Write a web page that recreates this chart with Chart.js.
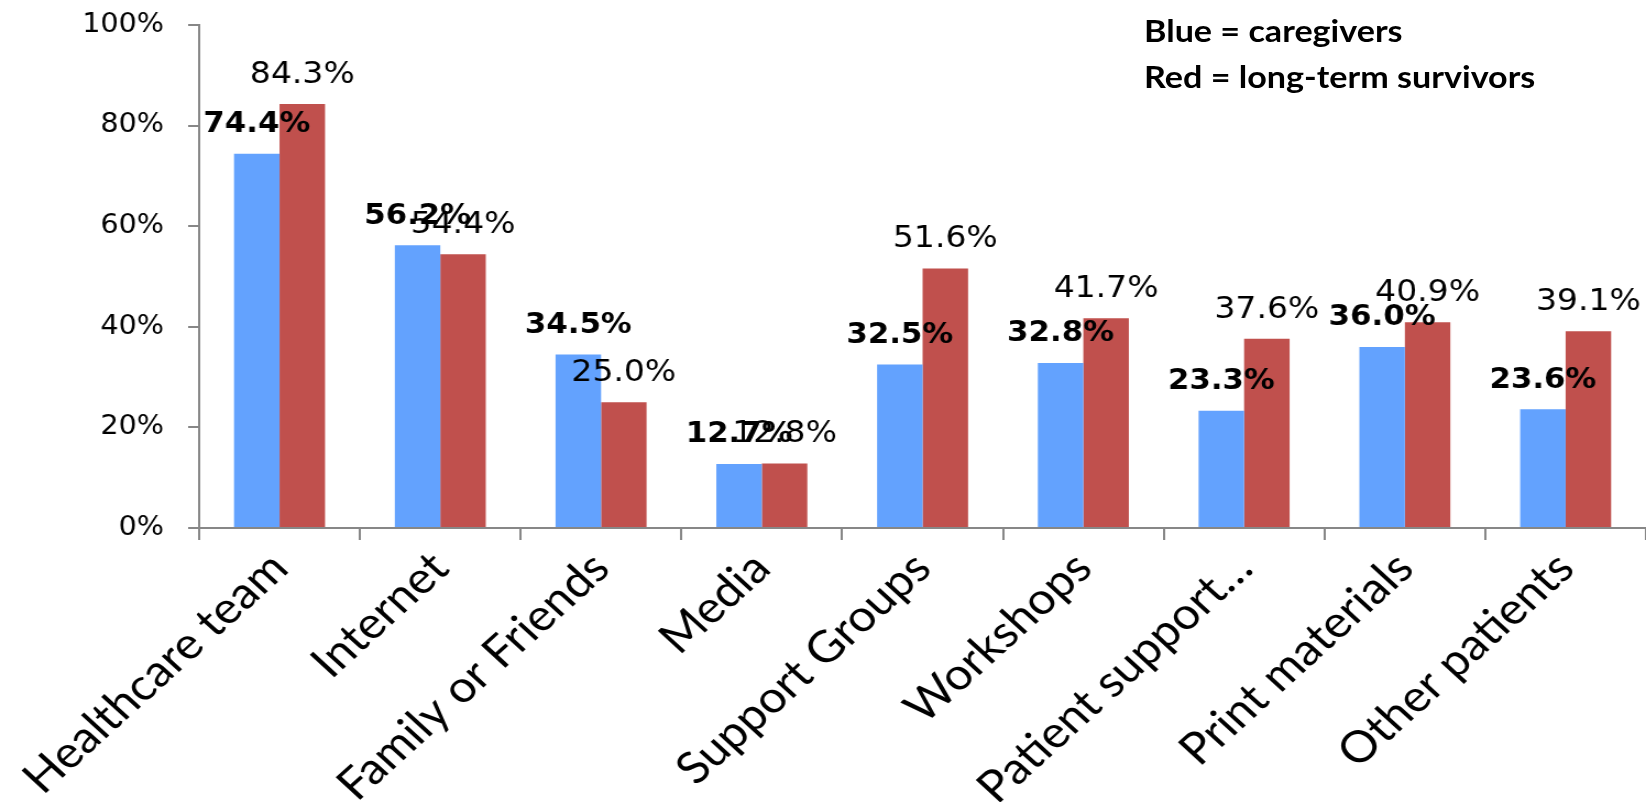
<!DOCTYPE html>
<html>
<head>
<meta charset="utf-8">
<script src="https://cdn.jsdelivr.net/npm/chart.js@4.4.1/dist/chart.umd.min.js"></script>
<style>
  html, body { margin: 0; padding: 0; background: #fff; overflow: hidden; }
  #wrap { position: relative; width: 1646px; height: 802px; }
  #chart { display: block; }
  #key { position: absolute; left: 1144px; top: 7px; font: bold 31px Lato; line-height: 46px;
         transform: scaleX(1.1); transform-origin: left top; color: #000; white-space: nowrap; }
</style>
</head>
<body>
<div id="wrap">
  <!-- the original chart is a bit stretched sideways, so the canvas is drawn narrower and scaled up -->
  <canvas id="chart" width="1496" height="802" style="width:1646px;height:802px"></canvas>
  <div id="key">Blue = caregivers<br>Red = long-term survivors</div>
</div>
<script>
const categories = ['Healthcare team', 'Internet', 'Family or Friends', 'Media', 'Support Groups',
                    'Workshops', 'Patient support\u2026', 'Print materials', 'Other patients'];
const caregivers = [74.4, 56.2, 34.5, 12.7, 32.5, 32.8, 23.3, 36.0, 23.6];
const survivors  = [84.3, 54.4, 25.0, 12.8, 51.6, 41.7, 37.6, 40.9, 39.1];
const yTicks = [0, 20, 40, 60, 80, 100];

const BLUE = '#63a2fe';
const RED = '#c0504d';
const AXIS = '#878787';

// value labels above each bar, blue ones bold
const valueLabels = {
  id: 'valueLabels',
  afterDatasetsDraw(chart) {
    const ctx = chart.ctx;
    chart.data.datasets.forEach((ds, i) => {
      const meta = chart.getDatasetMeta(i);
      meta.data.forEach((bar, j) => {
        ctx.save();
        ctx.fillStyle = '#000';
        ctx.font = ds.boldLabels ? 'bold 28px "DejaVu Sans"' : '30px "DejaVu Sans"';
        ctx.textAlign = 'center';
        ctx.textBaseline = 'middle';
        ctx.fillText(ds.data[j].toFixed(1) + '%', bar.x, bar.y - 29);
        ctx.restore();
      });
    });
  }
};

new Chart(document.getElementById('chart'), {
  type: 'bar',
  data: {
    labels: categories,
    datasets: [
      { label: 'caregivers', data: caregivers, backgroundColor: BLUE,
        categoryPercentage: 0.566, barPercentage: 1, boldLabels: true },
      { label: 'long-term survivors', data: survivors, backgroundColor: RED,
        categoryPercentage: 0.566, barPercentage: 1 }
    ]
  },
  options: {
    responsive: false,
    animation: false,
    devicePixelRatio: 1,
    layout: { padding: { top: 25, left: 0, right: 0, bottom: 0 } },
    plugins: { legend: { display: false }, tooltip: { enabled: false } },
    scales: {
      x: {
        grid: { offset: true, drawOnChartArea: false, tickLength: 12, color: AXIS, lineWidth: 2 },
        border: { color: AXIS, width: 2 },
        ticks: { maxRotation: 45, minRotation: 45, autoSkip: false, padding: 2, color: '#000',
                 font: { family: 'Lato', size: 44 } },
        afterFit: s => { s.height = 802 - 528; s.paddingLeft = 0; s.paddingRight = 0; }
      },
      y: {
        min: 0, max: 100,
        grid: { drawOnChartArea: false, tickLength: 10, color: AXIS, lineWidth: 2 },
        border: { color: AXIS, width: 2 },
        ticks: { color: '#000', padding: 22, font: { family: 'DejaVu Sans', size: 26 },
                 callback: v => v + '%' },
        afterBuildTicks: s => { s.ticks = yTicks.map(v => ({ value: v })); },
        afterFit: s => { s.width = 181; s.paddingTop = 0; s.paddingBottom = 0; }
      }
    }
  },
  plugins: [valueLabels]
});
</script>
</body>
</html>
